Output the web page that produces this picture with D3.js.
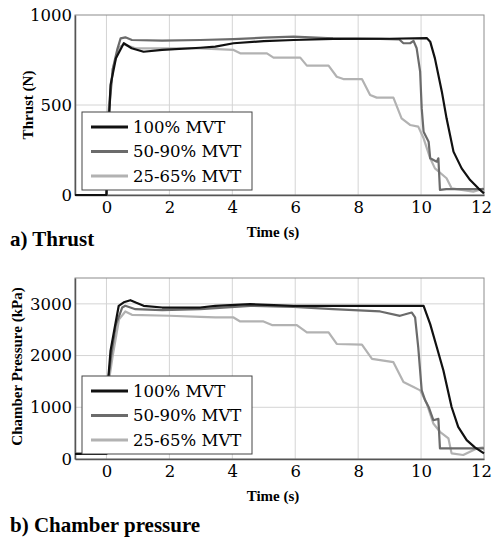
<!DOCTYPE html>
<html>
<head>
<meta charset="utf-8">
<script src="https://cdn.jsdelivr.net/npm/d3@7"></script>
<style>
  body { margin: 0; background: #fff; }
</style>
</head>
<body>
<svg id="chart" width="494" height="537"></svg>
<script>
var SERIF = "'Liberation Serif', 'Times New Roman', Times, serif";
var SERIF_REG = "'DejaVu Serif', serif";

// series names + legend
var seriesNames = ["100% MVT", "50-90% MVT", "25-65% MVT"];
var seriesColors = ["#111111", "#6b6b6b", "#b2b2b2"];

var xTicks = [0, 2, 4, 6, 8, 10, 12];
var thrustTicks = [0, 500, 1000];
var pressureTicks = [0, 1000, 2000, 3000];

// thrust (N) vs time (s)
var thrust100 = [[-1,0],[0,0],[0.05,300],[0.13,611],[0.3,760],[0.55,843],[0.8,815],[1.18,796],[1.77,806],[2.98,818],[3.46,824],[4.04,843],[5.0,855],[5.95,861],[7.2,867],[9.0,868],[10.18,872],[10.29,852],[10.44,759],[10.66,574],[10.81,426],[11.03,241],[11.29,148],[11.56,83],[11.82,37],[12,9]];
var thrust5090 = [[-1,0],[0,0],[0.05,400],[0.2,700],[0.34,806],[0.45,870],[0.6,876],[0.81,861],[1.77,858],[2.98,861],[4.04,866],[5.0,874],[5.95,880],[7.2,870],[8.7,867],[9.3,865],[9.44,843],[9.65,843],[9.76,856],[9.86,815],[9.97,685],[10.02,481],[10.08,352],[10.24,296],[10.29,204],[10.5,185],[10.55,204],[10.6,28],[10.8,33],[12,33]];
var thrust2565 = [[-1,0],[0,0],[0.05,450],[0.2,700],[0.4,820],[0.55,837],[0.92,815],[2.0,815],[2.98,815],[4.04,806],[4.25,787],[5.1,787],[5.31,763],[6.16,763],[6.37,719],[7.06,719],[7.32,657],[7.53,644],[8.12,644],[8.38,556],[8.59,541],[9.12,541],[9.38,426],[9.65,389],[9.91,380],[10.08,315],[10.29,204],[10.44,148],[10.81,93],[10.97,37],[11.66,19],[12,37]];

// chamber pressure (kPa) vs time (s)
var press100 = [[-1,100],[0,100],[0.05,1500],[0.13,2096],[0.25,2500],[0.39,2962],[0.55,3030],[0.76,3071],[0.95,3020],[1.18,2962],[1.77,2929],[2.98,2929],[3.46,2962],[4.57,2994],[5.95,2962],[9.0,2962],[10.08,2962],[10.29,2609],[10.5,2160],[10.71,1712],[10.97,1006],[11.18,622],[11.45,365],[11.71,224],[12,109]];
var press5090 = [[-1,100],[0,100],[0.05,1500],[0.15,2000],[0.3,2600],[0.5,2929],[0.6,2962],[0.92,2897],[1.77,2878],[2.98,2897],[4.57,2962],[5.95,2940],[7.2,2897],[8.7,2853],[9.33,2769],[9.7,2833],[9.81,2737],[9.91,2160],[10.02,1327],[10.13,1135],[10.24,1006],[10.39,750],[10.55,775],[10.6,205],[12,205]];
var press2565 = [[-1,100],[0,100],[0.05,1400],[0.2,2000],[0.4,2700],[0.6,2853],[0.81,2788],[2.0,2770],[2.98,2750],[3.46,2740],[4.04,2737],[4.25,2660],[4.99,2660],[5.26,2590],[6.05,2590],[6.37,2449],[7.06,2449],[7.32,2224],[8.12,2211],[8.44,1936],[9.12,1872],[9.44,1487],[9.76,1391],[9.97,1327],[10.18,1071],[10.39,686],[10.6,526],[10.87,397],[10.97,109],[11.34,77],[11.77,205],[12,224]];

var svg = d3.select("#chart");

function drawPanel(opt) {
	var left = 75, right = 484;
	var x = d3.scaleLinear().domain([-1, 12]).range([left, right]);
	var y = d3.scaleLinear().domain(opt.yDomain).range([opt.bottom, opt.top]);
	var g = svg.append("g");

	// grid
	g.selectAll("line.vg").data(xTicks.filter(function (d) { return d > -1 && d < 12; })).enter().append("line")
		.attr("x1", function (d) { return x(d); }).attr("x2", function (d) { return x(d); })
		.attr("y1", opt.top).attr("y2", opt.bottom)
		.attr("stroke", "#d4d4d4").attr("stroke-width", 1);
	g.selectAll("line.hg").data(opt.yTicks.filter(function (d) { return d > opt.yDomain[0] && d < opt.yDomain[1]; })).enter().append("line")
		.attr("x1", left).attr("x2", right)
		.attr("y1", function (d) { return y(d); }).attr("y2", function (d) { return y(d); })
		.attr("stroke", "#d4d4d4").attr("stroke-width", 1);

	g.append("rect").attr("x", left).attr("y", opt.top)
		.attr("width", right - left).attr("height", opt.bottom - opt.top)
		.attr("fill", "none").attr("stroke", "#8c8c8c").attr("stroke-width", 1);

	// axes
	var xAxis = d3.axisBottom(x).tickValues(xTicks).tickSize(0).tickPadding(6).tickFormat(d3.format("d"));
	var xa = g.append("g").attr("transform", "translate(0," + opt.bottom + ")").call(xAxis);
	xa.attr("font-family", SERIF_REG).attr("font-size", 16.5);
	xa.select(".domain").attr("stroke", "#555").attr("stroke-width", 1.5);
	xa.selectAll("text").attr("fill", "#000").attr("dy", "0.72em")
		.attr("dx", function (d) { return d === 12 ? -3 : 0; });

	var yAxis = d3.axisLeft(y).tickValues(opt.yTicks).tickSize(0).tickPadding(3).tickFormat(d3.format("d"));
	var ya = g.append("g").attr("transform", "translate(" + left + ",0)").call(yAxis);
	ya.attr("font-family", SERIF_REG).attr("font-size", 16.5);
	ya.select(".domain").attr("stroke", "#555").attr("stroke-width", 1.5);
	ya.selectAll("text").attr("fill", "#000");

	// lines
	var line = d3.line().x(function (d) { return x(d[0]); }).y(function (d) { return y(d[1]); });
	for (var i = opt.data.length - 1; i >= 0; i--) {
		g.append("path").datum(opt.data[i]).attr("d", line)
			.attr("fill", "none").attr("stroke", seriesColors[i])
			.attr("stroke-width", 2.2).attr("stroke-linejoin", "round");
	}

	// legend
	var lg = g.append("g").attr("font-family", SERIF_REG).attr("font-size", 16.5);
	lg.append("rect").attr("x", 82).attr("y", opt.legTop)
		.attr("width", 170).attr("height", 78)
		.attr("fill", "#fff").attr("stroke", "#444").attr("stroke-width", 1);
	seriesNames.forEach(function (name, i) {
		var yy = opt.legTop + 15 + i * 24.5;
		lg.append("line").attr("x1", 91).attr("x2", 128).attr("y1", yy).attr("y2", yy)
			.attr("stroke", seriesColors[i]).attr("stroke-width", 2.8);
		lg.append("text").attr("x", 133).attr("y", yy).attr("dy", "0.35em").text(name);
	});

	// titles
	g.append("text").attr("x", 273).attr("y", opt.bottom + 42)
		.attr("text-anchor", "middle")
		.style("font-family", SERIF).style("font-size", "15px").style("font-weight", "bold")
		.text("Time (s)");
	g.append("text").attr("transform", "translate(" + opt.yLabelX + "," + ((opt.top + opt.bottom) / 2 + opt.yLabelShift) + ") rotate(-90)")
		.attr("text-anchor", "middle").attr("dy", "0.35em")
		.style("font-family", SERIF).style("font-size", "15px").style("font-weight", "bold")
		.text(opt.yLabel);
	g.append("text").attr("x", 10).attr("y", opt.capY)
		.style("font-family", SERIF).style("font-size", "21px").style("font-weight", "bold")
		.text(opt.caption);
}

drawPanel({
	top: 15, bottom: 195, yDomain: [0, 1000], yTicks: thrustTicks,
	data: [thrust100, thrust5090, thrust2565],
	legTop: 112, yLabel: "Thrust (N)", yLabelX: 28, yLabelShift: 0,
	caption: "a) Thrust", capY: 246
});

drawPanel({
	top: 278, bottom: 459, yDomain: [0, 3500], yTicks: pressureTicks,
	data: [press100, press5090, press2565],
	legTop: 376, yLabel: "Chamber Pressure (kPa)", yLabelX: 17, yLabelShift: -2,
	caption: "b) Chamber pressure", capY: 532
});
</script>
</body>
</html>
